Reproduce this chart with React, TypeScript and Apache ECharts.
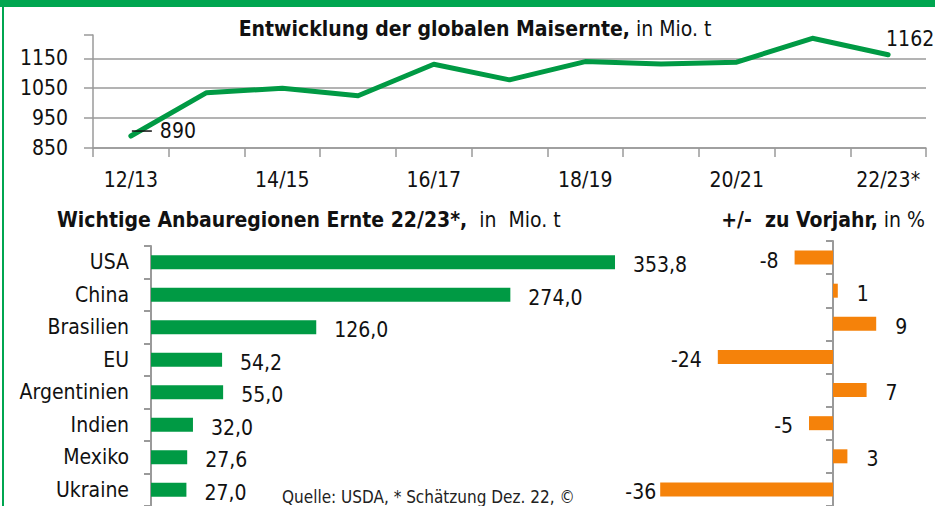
import React, { useEffect, useRef } from "react";
import * as echarts from "echarts";

const years = ["12/13", "13/14", "14/15", "15/16", "16/17", "17/18", "18/19", "19/20", "20/21", "21/22", "22/23*"];
const production = [890, 1035, 1050, 1025, 1130, 1078, 1139, 1131, 1137, 1217, 1162];

const regions = ["USA", "China", "Brasilien", "EU", "Argentinien", "Indien", "Mexiko", "Ukraine"];
const harvest = [353.8, 274.0, 126.0, 54.2, 55.0, 32.0, 27.6, 27.0];
const change = [-8, 1, 9, -24, 7, -5, 3, -36];

const FF = "'Liberation Sans Narrow','DejaVu Sans Condensed','Arial Narrow',sans-serif";
const GREEN = "#009a44";
const ORANGE = "#f5820a";
const GRAY = "#9a9a9a";
const FS = 21;

export default function App() {
  const ref = useRef<HTMLDivElement>(null);
  useEffect(() => {
    document.body.style.margin = "0";
    if (!ref.current) return;
    const chart = echarts.init(ref.current, null, { renderer: "svg" });
    const lastIdx = production.length - 1;
    const minIdx = change.indexOf(Math.min(...change));
    chart.setOption({
      animation: false,
      backgroundColor: "#fff",
      textStyle: { fontFamily: FF },
      grid: [
        { left: 93, top: 35, width: 833, height: 113 },
        { left: 151, top: 246, width: 524.6, bottom: -7 },
        { left: 641, top: 241, width: 288, bottom: -4 },
      ],
      xAxis: [
        {
          gridIndex: 0,
          type: "category",
          data: years,
          boundaryGap: true,
          axisLine: { lineStyle: { color: GRAY, width: 1.5 } },
          axisTick: { show: true, interval: 0, length: 9, lineStyle: { color: GRAY, width: 1.5 } },
          axisLabel: { interval: 1, color: "#111", fontSize: FS, fontFamily: FF, margin: 21 },
        },
        { gridIndex: 1, type: "value", min: 0, max: 400, show: false },
        { gridIndex: 2, type: "value", min: -40, max: 20, show: false },
      ],
      yAxis: [
        {
          gridIndex: 0,
          type: "value",
          min: 850,
          max: 1228,
          interval: 100,
          axisLine: { show: true, lineStyle: { color: GRAY, width: 1.5 } },
          axisTick: { show: true, length: 9, lineStyle: { color: GRAY, width: 1.5 } },
          axisLabel: {
            color: "#111",
            fontSize: FS,
            fontFamily: FF,
            margin: 25,
            formatter: (v: number) => (v % 100 === 50 ? String(v) : ""),
          },
          splitLine: {
            show: true,
            lineStyle: { color: [GRAY, GRAY, GRAY, GRAY, "rgba(0,0,0,0)"], width: 1.5 },
          },
        },
        {
          gridIndex: 1,
          type: "category",
          data: regions,
          inverse: true,
          axisLine: { show: true, lineStyle: { color: GRAY, width: 2 } },
          axisTick: { show: true, length: 7, lineStyle: { color: GRAY, width: 2 } },
          axisLabel: { color: "#111", fontSize: FS, fontFamily: FF, margin: 22 },
          splitLine: { show: false },
        },
        {
          gridIndex: 2,
          type: "category",
          data: regions,
          inverse: true,
          axisLine: { show: true, onZero: true, lineStyle: { color: GRAY, width: 2 } },
          axisTick: { show: true, length: 7, lineStyle: { color: GRAY, width: 2 } },
          axisLabel: { show: false },
          splitLine: { show: false },
        },
      ],
      series: [
        {
          type: "line",
          xAxisIndex: 0,
          yAxisIndex: 0,
          symbol: "circle",
          symbolSize: 2,
          showSymbol: true,
          itemStyle: { color: GREEN },
          lineStyle: { color: GREEN, width: 5, cap: "round", join: "round" },
          data: production.map((v, i) => {
            if (i === 0) {
              return {
                value: v,
                label: {
                  show: true,
                  position: "right",
                  distance: 0,
                  offset: [0, -5],
                  formatter: (p: any) => "{ln|}{v|" + p.value + "}",
                  rich: {
                    ln: { width: 20, height: 1.5, backgroundColor: "#111" },
                    v: { fontSize: FS, fontFamily: FF, color: "#111", padding: [0, 0, 0, 8] },
                  },
                },
              };
            }
            if (i === lastIdx) {
              return {
                value: v,
                label: {
                  show: true,
                  position: "top",
                  distance: 4,
                  offset: [22, 0],
                  fontSize: FS,
                  fontFamily: FF,
                  color: "#111",
                },
              };
            }
            return v;
          }),
        },
        {
          type: "bar",
          xAxisIndex: 1,
          yAxisIndex: 1,
          barWidth: 14,
          itemStyle: { color: GREEN },
          label: {
            show: true,
            position: "right",
            distance: 18,
            offset: [0, 3],
            fontSize: FS,
            fontFamily: FF,
            color: "#111",
            formatter: (p: any) => Number(p.value).toFixed(1).replace(".", ","),
          },
          data: harvest,
        },
        {
          type: "bar",
          xAxisIndex: 2,
          yAxisIndex: 2,
          barWidth: 14,
          itemStyle: { color: ORANGE },
          data: change.map((v, i) => ({
            value: v,
            label: {
              show: true,
              position: v < 0 ? "left" : "right",
              distance: i === minIdx ? 4 : v < 0 ? 16 : 19,
              offset: [0, 3],
              fontSize: FS,
              fontFamily: FF,
              color: "#111",
            },
          })),
        },
      ],
      graphic: [
        { type: "rect", shape: { x: 0, y: 0, width: 935, height: 7 }, style: { fill: "#00a650" }, z: 100 },
        { type: "rect", shape: { x: 2, y: 0, width: 2, height: 506 }, style: { fill: "#00a650" }, z: 100 },
        {
          type: "text",
          x: 475,
          y: 29,
          style: {
            text: "{b|Entwicklung der globalen Maisernte,}{r| in Mio. t}",
            align: "center",
            verticalAlign: "middle",
            rich: {
              b: { fontSize: FS, fontWeight: "bold", fontFamily: FF, fill: "#111", color: "#111" },
              r: { fontSize: FS, fontFamily: FF, fill: "#111", color: "#111" },
            },
          },
        },
        {
          type: "text",
          x: 57,
          y: 220,
          style: {
            text: "{b|Wichtige Anbauregionen Ernte 22/23*,}{r|  in  Mio. t}",
            align: "left",
            verticalAlign: "middle",
            rich: {
              b: { fontSize: FS, fontWeight: "bold", fontFamily: FF, fill: "#111", color: "#111" },
              r: { fontSize: FS, fontFamily: FF, fill: "#111", color: "#111" },
            },
          },
        },
        {
          type: "text",
          x: 925,
          y: 220,
          style: {
            text: "{b|+/-  zu Vorjahr,}{r| in %}",
            align: "right",
            verticalAlign: "middle",
            rich: {
              b: { fontSize: FS, fontWeight: "bold", fontFamily: FF, fill: "#111", color: "#111" },
              r: { fontSize: FS, fontFamily: FF, fill: "#111", color: "#111" },
            },
          },
        },
        {
          type: "text",
          x: 282,
          y: 505,
          style: {
            text: "Quelle: USDA, * Schätzung Dez. 22, ©",
            align: "left",
            verticalAlign: "bottom",
            fontSize: 17,
            fontFamily: FF,
            fill: "#222",
          },
        },
      ],
    });
    return () => chart.dispose();
  }, []);
  return <div ref={ref} style={{ width: 935, height: 506 }} />;
}
